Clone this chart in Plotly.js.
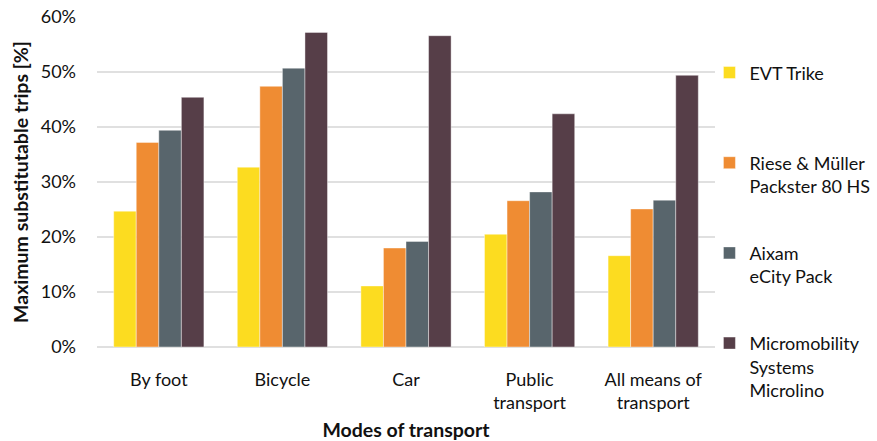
<!DOCTYPE html>
<html>
<head>
<meta charset="utf-8">
<script src="https://cdn.plot.ly/plotly-3.0.1.min.js"></script>
<style>html,body{margin:0;padding:0;background:#fff;}#chart{width:877px;height:441px;}</style>
</head>
<body>
<div id="chart"></div>
<script>
const categories = ["By foot", "Bicycle", "Car", "Public<br>transport", "All means of<br>transport"];
const seriesNames = [
  "EVT Trike<br>&nbsp;<br>&nbsp;",
  "Riese &amp; Müller<br>Packster 80 HS<br>&nbsp;",
  "Aixam<br>eCity Pack<br>&nbsp;",
  "Micromobility<br>Systems<br>Microlino"
];
const evtTrike = [24.7, 32.7, 11.1, 20.5, 16.6];
const rieseMueller = [37.2, 47.4, 18.0, 26.6, 25.1];
const aixam = [39.4, 50.7, 19.2, 28.2, 26.7];
const microlino = [45.4, 57.2, 56.6, 42.4, 49.4];
const colors = ["#FCDC20", "#EF8C33", "#58656C", "#563E48"];
const yTicks = [0, 10, 20, 30, 40, 50, 60];

const allSeries = [evtTrike, rieseMueller, aixam, microlino];
const traces = allSeries.map((vals, i) => ({
  type: "bar",
  name: seriesNames[i],
  x: categories,
  y: vals,
  legendgroup: "g" + i,
  marker: {color: colors[i], line: {color: "rgba(255,255,255,0.7)", width: 0.6}},
  hoverinfo: "skip"
}));

const font = "Lato, 'Open Sans', sans-serif";
const layout = {
  width: 877, height: 441,
  margin: {l: 97, r: 162, t: 17, b: 94, autoexpand: false},
  paper_bgcolor: "#fff", plot_bgcolor: "#fff",
  font: {family: font, size: 18, color: "#111"},
  barmode: "group",
  bargap: 0.27,
  bargroupgap: 0,
  showlegend: true,
  legend: {
    x: 0.991, xanchor: "left", y: 0.887, yanchor: "top",
    maxheight: 440,
    traceorder: "grouped", tracegroupgap: 17, valign: "top",
    font: {family: font, size: 18, color: "#111"},
    bgcolor: "rgba(0,0,0,0)"
  },
  xaxis: {
    type: "category",
    showgrid: false, zeroline: false, showline: false,
    ticks: "", ticklabelstandoff: 20,
    tickfont: {family: font, size: 18, color: "#111"},
    title: {text: "<b>Modes of transport</b>", font: {family: font, size: 19.5, color: "#111"}, standoff: 10}
  },
  yaxis: {
    range: [0, 60],
    tickvals: yTicks,
    ticktext: yTicks.map(v => v + "%"),
    showgrid: true, gridcolor: "#E0E0E0", gridwidth: 1.5,
    zeroline: true, zerolinecolor: "#E0E0E0", zerolinewidth: 1.5,
    showline: false, ticks: "", ticklabelstandoff: 20,
    tickfont: {family: font, size: 18, color: "#111"},
    title: {text: "<b>Maximum substitutable trips [%]</b>", font: {family: font, size: 19.5, color: "#111"}, standoff: 6}
  }
};

Plotly.newPlot("chart", traces, layout, {displayModeBar: false, staticPlot: true});
</script>
</body>
</html>
